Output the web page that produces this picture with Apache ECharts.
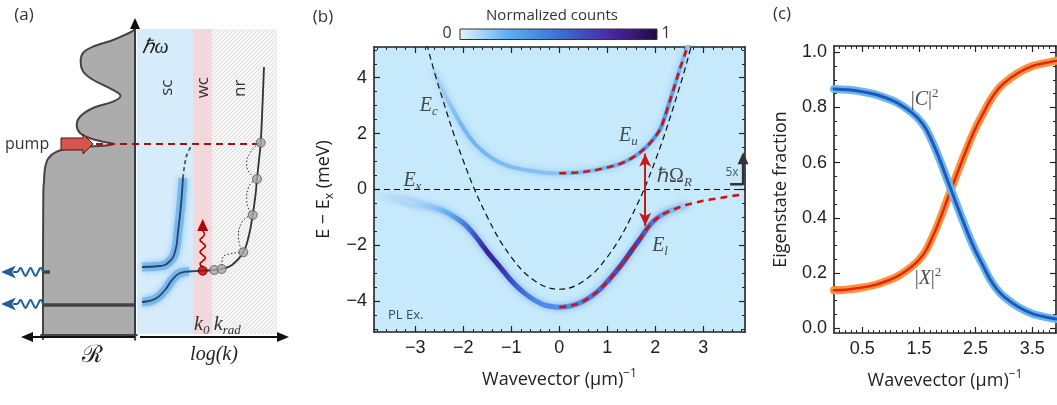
<!DOCTYPE html>
<html><head><meta charset="utf-8">
<script src="https://cdn.jsdelivr.net/npm/echarts@6/dist/echarts.min.js"></script>
<style>html,body{margin:0;padding:0;background:#fff}#c{width:1057px;height:405px}</style>
</head><body><div id="c"></div>
<script>
// ================= DATA =================
// Panel (b): PL dispersion, k in (µm)^-1, E - Ex in meV
const cavityK = [-2.76,-2.5,-2,-1.5,-1,-0.5,0,0.5,1,1.5,2,2.5,2.76];
const cavityE = [5.2,3.62,1.03,-0.98,-2.42,-3.28,-3.57,-3.28,-2.42,-0.98,1.03,3.62,5.2];
const lowerBandK = [-3.86,-3.5,-3.04,-2.6,-2.4,-2.21,-2.0,-1.85,-1.7,-1.58,-1.44,-1.29,-1.15,-1.02,-0.85,-0.67,-0.5,-0.33,-0.16,0,0.16,0.33,0.5,0.67,0.85,1.0,1.15,1.3,1.44,1.55,1.67,1.79,1.9,2.0,2.1,2.2,2.33,2.45,2.58,2.7];
const lowerBandE = [-0.22,-0.3,-0.48,-0.66,-0.78,-0.95,-1.2,-1.46,-1.77,-2.05,-2.36,-2.66,-2.95,-3.22,-3.52,-3.78,-3.98,-4.12,-4.19,-4.21,-4.19,-4.12,-4.0,-3.82,-3.57,-3.3,-3.0,-2.68,-2.35,-2.08,-1.8,-1.5,-1.25,-1.08,-0.95,-0.85,-0.75,-0.67,-0.59,-0.53];
const upperBandK = [-2.62,-2.55,-2.4,-2.2,-2.05,-1.9,-1.75,-1.6,-1.45,-1.3,-1.15,-1.0,-0.8,-0.6,-0.4,-0.2,0,0.2,0.4,0.6,0.8,1.0,1.2,1.4,1.6,1.8,1.95,2.1,2.2,2.31,2.42,2.52,2.62,2.72];
const upperBandE = [4.3,4.0,3.45,2.8,2.35,1.95,1.62,1.38,1.18,1.02,0.9,0.81,0.73,0.67,0.62,0.59,0.58,0.59,0.61,0.65,0.71,0.79,0.88,1.02,1.22,1.5,1.78,2.15,2.6,3.2,3.8,4.35,4.85,5.35];
const upperFitK = [0,0.2,0.4,0.6,0.8,1.0,1.2,1.4,1.6,1.8,1.95,2.1,2.2,2.31,2.42,2.52,2.62,2.72];
const upperFitE = [0.58,0.59,0.61,0.65,0.71,0.79,0.88,1.02,1.22,1.5,1.78,2.15,2.6,3.2,3.8,4.35,4.85,5.35];
const lowerFitK = [0,0.16,0.33,0.5,0.67,0.85,1.0,1.15,1.3,1.44,1.55,1.67,1.79,1.9,2.0,2.1,2.2,2.33,2.45,2.58,2.7,2.94,3.15,3.4,3.65,3.87];
const lowerFitE = [-4.21,-4.19,-4.12,-4.0,-3.82,-3.57,-3.3,-3.0,-2.68,-2.35,-2.08,-1.8,-1.5,-1.25,-1.08,-0.95,-0.85,-0.75,-0.67,-0.59,-0.53,-0.43,-0.36,-0.29,-0.22,-0.17];
const excitonE = 0;
const rabiK = 1.79, rabiTop = 1.28, rabiBottom = -1.3;
const bXTicks = [-3,-2,-1,0,1,2,3];
const bYTicks = [-4,-2,0,2,4];

// Panel (c): eigenstate fractions
const fracK = [0,0.25,0.5,0.75,1.0,1.125,1.25,1.375,1.5,1.625,1.75,1.875,2.0,2.125,2.25,2.375,2.5,2.625,2.75,2.875,3.0,3.25,3.5,3.75,3.92];
const photonFrac = [0.867,0.864,0.857,0.846,0.828,0.816,0.800,0.781,0.757,0.722,0.669,0.607,0.538,0.470,0.403,0.338,0.279,0.229,0.179,0.141,0.114,0.077,0.052,0.039,0.033];
const excitonFrac = [0.137,0.140,0.147,0.158,0.176,0.188,0.204,0.223,0.247,0.282,0.335,0.397,0.466,0.534,0.601,0.666,0.725,0.775,0.823,0.861,0.888,0.925,0.950,0.962,0.969];
const cXTicks = [0.5,1.5,2.5,3.5];
const cYTicks = [0,0.2,0.4,0.6,0.8,1.0];

// Panel (a): schematic outline points (schematic units)
const reflectanceShape = [[135,28],[131.7,31.7],[113,40],[93,46.7],[83,53],[80.7,61.7],[83.3,71.7],[93.3,80],[110,88.3],[120.5,95.5],[113,101.7],[93,108],[80,116.7],[76.7,125],[80,133],[90,138.3],[103,141.7],[114,144],[103,145.8],[86.7,146.8],[70,148.3],[56.7,151.7],[48.3,158.3],[45,168.3],[44,181.7],[43.3,195],[43,260],[43,333],[43,335],[45,335],[90,335],[133,335],[135,335],[135,333],[135,250],[135,150],[135,60],[135,31]];
const scRegion = [[137,29],[193,29],[193,334],[137,334]];
const wcRegion = [[193,29],[212,29],[212,334],[193,334]];
const nrRegion = [[212,29],[277,29],[277,334],[212,334]];
const pumpArrow = [[61,138],[83,138],[83,134],[93,144],[83,154],[83,150],[61,150]];
const pumpLine = [[96,144],[260,144]];
const upperPolariton = [[142,267],[160,266],[169,262],[175,252],[178,232],[181,205],[183,178]];
const upperPolaritonDash = [[183,178],[185,163],[188,152],[193,144]];
const lowerPolariton = [[142,302],[155,299],[165,290],[172,280],[180,273],[189,271.5]];
const lowerPolaritonTail = [[189,271.5],[202.7,270.7]];
const relaxCurve = [[202.7,270.7],[214.3,270],[221.7,269],[232,265],[243.3,252.3],[249,235],[252.7,215],[255.5,195],[257,179],[259,160],[260.7,142.7],[262.5,105],[264,67]];
const hopPaths = [
  [[221.7,269],[222,261],[229,254],[243.3,252.3]],
  [[243.3,252.3],[238.5,237],[241.5,223],[252.7,215]],
  [[252.7,215],[246.7,200],[248.3,188],[257,179]],
  [[257,179],[246.7,165],[250,153],[260.7,142.7]]
];
const greyDots = [[214.3,270],[221.7,269],[243.3,252.3],[252.7,215],[257,179],[260.7,142.7]];
const redDot = [[202.7,270.7]];
const redWave = [[202.7,267],[200,264],[202.7,261],[205.4,258],[202.7,255],[200,252],[202.7,249],[205.4,246],[202.7,243],[200,240],[202.7,237],[204.5,234],[202.7,231]];
const redWaveHead = [[197.2,231],[208.2,231],[202.7,219]];
const blueWaveUpper = [[43,272],[40.5,268],[38,272],[35.5,276],[33,272],[30.5,268],[28,272],[25.5,276],[23,272],[20.5,268],[17,272],[13,272]];
const blueWaveLower = [[43,304],[40.5,300],[38,304],[35.5,308],[33,304],[30.5,300],[28,304],[25.5,308],[23,304],[20.5,300],[17,304],[13,304]];
const blueHeadUpper = [[1,272],[16,265.5],[12,272],[16,278.5]];
const blueHeadLower = [[1,304],[16,297.5],[12,304],[16,310.5]];
const levelLong = [[43,305],[135,305]];
const levelShort = [[43,272],[50,272]];
const energyAxis = [[135,336],[135,27]];
const energyHead = [[130,29],[140,29],[135,18]];
const rAxis = [[135,337],[30,337]];
const rHead = [[33,332],[33,342],[21,337]];
const kAxis = [[140,337],[278,337]];
const kHead = [[277,332],[277,342],[289,337]];
const colorbarRect = [[460,29],[657,29],[657,39.5],[460,39.5]];

// ================= HELPERS =================
const zip = (a, b) => a.map((v, i) => [v, b[i]]);
const range = (a, b, s) => { const r = []; for (let v = a; v <= b + 1e-9; v += s) r.push(+v.toFixed(4)); return r; };
const minus = v => (v < 0 ? '\u2212' + Math.abs(v) : '' + v);

const hatch = document.createElement('canvas');
hatch.width = 4; hatch.height = 4;
(function () {
  const g = hatch.getContext('2d');
  g.fillStyle = '#f6f6f6'; g.fillRect(0, 0, 4, 4);
  g.strokeStyle = '#dadada'; g.lineWidth = 0.9;
  g.beginPath(); g.moveTo(0, 4); g.lineTo(4, 0); g.moveTo(-1, 1); g.lineTo(1, -1); g.moveTo(3, 5); g.lineTo(5, 3); g.stroke();
})();

function poly(points, style, opts) {
  opts = opts || {};
  return {
    type: 'custom', coordinateSystem: 'cartesian2d', xAxisIndex: 0, yAxisIndex: 0, silent: true, z: opts.z || 2,
    data: [[0, 0]],
    renderItem: (params, api) => ({ type: 'polygon', shape: { points: points.map(p => api.coord(p)) }, style: style })
  };
}
// closed smooth outline (Catmull-Rom through the listed points, drawn as cubic Bezier path)
function smoothShape(points, style, z) {
  return {
    type: 'custom', coordinateSystem: 'cartesian2d', xAxisIndex: 0, yAxisIndex: 0, silent: true, z: z || 2,
    data: [[0, 0]],
    renderItem: (params, api) => {
      const p = points.map(q => api.coord(q));
      const n = p.length;
      const g = i => p[(i + n) % n];
      let d = 'M' + p[0][0].toFixed(2) + ',' + p[0][1].toFixed(2);
      for (let i = 0; i < n; i++) {
        const p0 = g(i - 1), p1 = g(i), p2 = g(i + 1), p3 = g(i + 2);
        const c1 = [p1[0] + (p2[0] - p0[0]) / 6, p1[1] + (p2[1] - p0[1]) / 6];
        const c2 = [p2[0] - (p3[0] - p1[0]) / 6, p2[1] - (p3[1] - p1[1]) / 6];
        d += 'C' + c1[0].toFixed(2) + ',' + c1[1].toFixed(2) + ' ' + c2[0].toFixed(2) + ',' + c2[1].toFixed(2) + ' ' + p2[0].toFixed(2) + ',' + p2[1].toFixed(2);
      }
      d += 'Z';
      return { type: 'path', shape: { pathData: d }, style: style };
    }
  };
}
function pline(points, ls, opts) {
  return Object.assign({
    type: 'line', xAxisIndex: 0, yAxisIndex: 0, data: points, symbol: 'none', showSymbol: false,
    smooth: false, lineStyle: ls, silent: true, z: 3
  }, opts || {});
}

const tickColor = '#222';
function frameX(gi, min, max, major, minor, labelFmt, name, gap) {
  const base = { type: 'value', gridIndex: gi, min: min, max: max, splitLine: { show: false } };
  return [
    Object.assign({}, base, {
      position: 'bottom',
      axisLine: { show: true, onZero: false, lineStyle: { color: tickColor, width: 1.6 } },
      axisTick: { show: true, inside: true, length: 6, customValues: major, lineStyle: { color: tickColor, width: 1.2 } },
      axisLabel: { show: true, customValues: major, formatter: labelFmt, fontSize: 18, fontFamily: 'Liberation Sans', color: '#222', margin: 7 },
      name: name, nameLocation: 'middle', nameGap: gap,
      nameTextStyle: { fontSize: 18, fontFamily: 'Open Sans', color: '#222', rich: { sup: { fontSize: 12, fontFamily: 'Open Sans', color: '#222', padding: [0, 0, 12, 0] } } }
    }),
    Object.assign({}, base, {
      position: 'bottom', axisLine: { show: false, onZero: false },
      axisTick: { show: true, inside: true, length: 3, customValues: minor, lineStyle: { color: tickColor, width: 1 } },
      axisLabel: { show: false }
    }),
    Object.assign({}, base, {
      position: 'top', axisLine: { show: true, onZero: false, lineStyle: { color: tickColor, width: 1.6 } },
      axisTick: { show: true, inside: true, length: 6, customValues: major, lineStyle: { color: tickColor, width: 1.2 } },
      axisLabel: { show: false }
    }),
    Object.assign({}, base, {
      position: 'top', axisLine: { show: false, onZero: false },
      axisTick: { show: true, inside: true, length: 3, customValues: minor, lineStyle: { color: tickColor, width: 1 } },
      axisLabel: { show: false }
    })
  ];
}
function frameY(gi, min, max, major, minor, labelFmt, name, gap) {
  const base = { type: 'value', gridIndex: gi, min: min, max: max, splitLine: { show: false } };
  return [
    Object.assign({}, base, {
      position: 'left',
      axisLine: { show: true, onZero: false, lineStyle: { color: tickColor, width: 1.6 } },
      axisTick: { show: true, inside: true, length: 6, customValues: major, lineStyle: { color: tickColor, width: 1.2 } },
      axisLabel: { show: true, customValues: major, formatter: labelFmt, fontSize: 18, fontFamily: 'Liberation Sans', color: '#222', margin: 7 },
      name: name, nameLocation: 'middle', nameGap: gap,
      nameTextStyle: { fontSize: 18, fontFamily: 'Open Sans', color: '#222', rich: { sub: { fontSize: 12, fontFamily: 'Open Sans', color: '#222', padding: [12, 0, 0, 0] } } }
    }),
    Object.assign({}, base, {
      position: 'left', axisLine: { show: false, onZero: false },
      axisTick: { show: true, inside: true, length: 3, customValues: minor, lineStyle: { color: tickColor, width: 1 } },
      axisLabel: { show: false }
    }),
    Object.assign({}, base, {
      position: 'right', axisLine: { show: true, onZero: false, lineStyle: { color: tickColor, width: 1.6 } },
      axisTick: { show: true, inside: true, length: 6, customValues: major, lineStyle: { color: tickColor, width: 1.2 } },
      axisLabel: { show: false }
    }),
    Object.assign({}, base, {
      position: 'right', axisLine: { show: false, onZero: false },
      axisTick: { show: true, inside: true, length: 3, customValues: minor, lineStyle: { color: tickColor, width: 1 } },
      axisLabel: { show: false }
    })
  ];
}

const serif = 'Liberation Serif';
const mathRich = {
  i: { fontFamily: serif, fontStyle: 'italic', fontSize: 20, color: '#222', lineHeight: 24 },
  n: { fontFamily: serif, fontSize: 20, color: '#222', lineHeight: 24 },
  s: { fontFamily: serif, fontStyle: 'italic', fontSize: 13, color: '#222', lineHeight: 24, padding: [12, 0, 0, 0] },
  p: { fontFamily: serif, fontSize: 13, color: '#222', lineHeight: 24, padding: [0, 0, 12, 0] }
};
function mathLabel(xi, yi, pos, text, extra) {
  return {
    type: 'scatter', xAxisIndex: xi, yAxisIndex: yi, data: [pos], symbolSize: 1, silent: true, z: 6,
    itemStyle: { color: 'rgba(0,0,0,0)' },
    label: Object.assign({ show: true, position: 'inside', formatter: text, rich: mathRich, color: '#222' }, extra || {})
  };
}

// ================= SERIES =================
const series = [];
// ---- Panel (a)
series.push(poly(scRegion, { fill: '#d6ecfb' }, { z: 1 }));
series.push(poly(wcRegion, { fill: '#f3d8da' }, { z: 1 }));
series.push(poly(nrRegion, { fill: { image: hatch, repeat: 'repeat' } }, { z: 1 }));
series.push(smoothShape(reflectanceShape, { fill: '#acacac', stroke: '#444', lineWidth: 2 }, 2));
series.push(pline(levelLong, { color: '#444', width: 3.5 }));
series.push(pline(levelShort, { color: '#444', width: 3.5 }));
series.push(pline(energyAxis, { color: '#2c3d4f', width: 2 }));
series.push(poly(energyHead, { fill: '#111' }, { z: 4 }));
series.push(pline(rAxis, { color: '#111', width: 2 }));
series.push(poly(rHead, { fill: '#111' }, { z: 4 }));
series.push(pline(kAxis, { color: '#111', width: 2 }));
series.push(poly(kHead, { fill: '#111' }, { z: 4 }));
series.push(pline(pumpLine, { color: '#a80f0f', width: 2, type: [7, 5] }));
series.push(poly(pumpArrow, { fill: '#d9534f', stroke: '#4a1515', lineWidth: 1 }, { z: 4 }));
[upperPolariton, lowerPolariton].forEach(pts => {
  series.push(pline(pts, { color: 'rgba(80,160,235,0.55)', width: 9, shadowBlur: 6, shadowColor: 'rgba(60,150,235,0.8)' }, { smooth: 0.5 }));
  series.push(pline(pts, { color: '#2a4560', width: 1.8 }, { smooth: 0.5, z: 4 }));
});
series.push(pline(lowerPolaritonTail, { color: '#2a4560', width: 1.8 }));
series.push(pline(upperPolaritonDash, { color: '#555', width: 1.8, type: [4, 3] }, { smooth: 0.5 }));
series.push(pline(relaxCurve, { color: '#333', width: 1.8 }, { smooth: 0.4 }));
hopPaths.forEach(p => series.push(pline(p, { color: '#333', width: 1, type: [1.5, 2] }, { smooth: 0.6 })));
series.push(pline(redWave, { color: '#b30000', width: 1.6 }, { smooth: 0.5 }));
series.push(poly(redWaveHead, { fill: '#b30000' }, { z: 4 }));
series.push(pline(blueWaveUpper, { color: '#1f5d9c', width: 2 }, { smooth: 0.5 }));
series.push(pline(blueWaveLower, { color: '#1f5d9c', width: 2 }, { smooth: 0.5 }));
series.push(poly(blueHeadUpper, { fill: '#1f5d9c' }, { z: 4 }));
series.push(poly(blueHeadLower, { fill: '#1f5d9c' }, { z: 4 }));
series.push({ type: 'scatter', xAxisIndex: 0, yAxisIndex: 0, data: greyDots, symbolSize: 9, silent: true, z: 5,
  itemStyle: { color: '#a9a9a9', borderColor: '#555', borderWidth: 1 } });
series.push({ type: 'scatter', xAxisIndex: 0, yAxisIndex: 0, data: redDot, symbolSize: 9, silent: true, z: 5,
  itemStyle: { color: '#c40000', borderColor: '#500', borderWidth: 1 } });
// colorbar
series.push(poly(colorbarRect, {
  fill: new echarts.graphic.LinearGradient(0, 0, 1, 0, [
    { offset: 0, color: '#e2f5fe' }, { offset: 0.25, color: '#5aaef2' }, { offset: 0.45, color: '#3d7fe0' },
    { offset: 0.62, color: '#3f4fc2' }, { offset: 0.78, color: '#4a24a0' }, { offset: 0.9, color: '#36156e' }, { offset: 1, color: '#1c0a40' }
  ]), stroke: '#333', lineWidth: 1
}, { z: 3 }));

// ---- Panel (b)  (xAxis 1, yAxis 1)
const bx = 1, by = 1;
series.push({ type: 'line', xAxisIndex: bx, yAxisIndex: by, data: zip(lowerBandK, lowerBandE), symbol: 'none', smooth: 0.3, silent: true, z: 2,
  lineStyle: { width: 5, shadowBlur: 6, shadowColor: 'rgba(60,110,225,0.5)',
    color: new echarts.graphic.LinearGradient(0, 0, 1, 0, [
      { offset: 0, color: 'rgba(197,233,250,0)' }, { offset: 0.06, color: 'rgba(180,222,248,0.4)' }, { offset: 0.12, color: '#b0dbf7' },
      { offset: 0.19, color: '#8ec8f4' },
      { offset: 0.25, color: '#5aa8ee' }, { offset: 0.31, color: '#3f6ad8' }, { offset: 0.36, color: '#35249a' },
      { offset: 0.40, color: '#3a2aa8' }, { offset: 0.45, color: '#3f5ad0' }, { offset: 0.51, color: '#4a88e6' },
      { offset: 0.59, color: '#4f90ea' }, { offset: 0.68, color: '#4a80e2' }, { offset: 0.76, color: '#3f55cc' },
      { offset: 0.82, color: '#3a3ab8' }, { offset: 0.88, color: '#4a7ae0' }, { offset: 0.94, color: '#78b8f0' },
      { offset: 1, color: '#b8e0f8' }]) } });
series.push({ type: 'line', xAxisIndex: bx, yAxisIndex: by, data: zip(upperBandK, upperBandE), symbol: 'none', smooth: 0.3, silent: true, z: 2,
  lineStyle: { width: 4, shadowBlur: 7, shadowColor: 'rgba(90,160,235,0.5)',
    color: new echarts.graphic.LinearGradient(0, 0, 1, 0, [
      { offset: 0, color: 'rgba(150,205,245,0.3)' }, { offset: 0.05, color: '#9accf4' }, { offset: 0.12, color: '#74b6f0' },
      { offset: 0.2, color: '#74b6f0' }, { offset: 0.31, color: '#80bef2' }, { offset: 0.5, color: '#8ac4f3' },
      { offset: 0.68, color: '#74b4f0' }, { offset: 0.8, color: '#5aa2ec' }, { offset: 0.87, color: '#4a8ee8' },
      { offset: 0.93, color: '#5aa5ee' }, { offset: 1, color: '#9fd2f5' }]) } });
series.push({ type: 'line', xAxisIndex: bx, yAxisIndex: by, data: zip(cavityK, cavityE), symbol: 'none', smooth: 0.4, silent: true, z: 3,
  lineStyle: { color: '#111', width: 1.2, type: [6, 4] } });
series.push({ type: 'line', xAxisIndex: bx, yAxisIndex: by, data: [[-3.86, excitonE], [3.87, excitonE]], symbol: 'none', silent: true, z: 3,
  lineStyle: { color: '#111', width: 1.2, type: [6, 4] } });
series.push({ type: 'line', xAxisIndex: bx, yAxisIndex: by, data: zip(upperFitK, upperFitE), symbol: 'none', smooth: 0.3, silent: true, z: 4,
  lineStyle: { color: '#cc1414', width: 2.6, type: [7, 5] } });
series.push({ type: 'line', xAxisIndex: bx, yAxisIndex: by, data: zip(lowerFitK, lowerFitE), symbol: 'none', smooth: 0.3, silent: true, z: 4,
  lineStyle: { color: '#cc1414', width: 2.6, type: [7, 5] },
  markLine: { silent: true, animation: false, label: { show: false }, symbol: ['arrow', 'arrow'], symbolSize: [9, 13],
    lineStyle: { color: '#c81818', width: 2, type: 'solid' },
    data: [[{ coord: [rabiK, rabiTop] }, { coord: [rabiK, rabiBottom] }]] } });
series.push({ type: 'line', xAxisIndex: bx, yAxisIndex: by, data: [[3.56, 0.19], [3.83, 0.19], [3.83, 0.95]], symbol: 'none', silent: true, z: 5,
  lineStyle: { color: '#333', width: 2.5 },
  markPoint: { silent: true, symbol: 'triangle', symbolSize: [11, 12], itemStyle: { color: '#333' }, label: { show: false },
    data: [{ coord: [3.83, 1.12] }] } });
series.push(mathLabel(bx, by, [-2.72, 3.0], '{i|E}{s|c}'));
series.push(mathLabel(bx, by, [-3.06, 0.33], '{i|E}{s|x}'));
series.push(mathLabel(bx, by, [1.44, 1.92], '{i|E}{s|u}'));
series.push(mathLabel(bx, by, [2.4, 0.45], '{n|ℏΩ}{s|R}'));
series.push(mathLabel(bx, by, [2.1, -2.02], '{i|E}{s|l}'));
series.push(mathLabel(bx, by, [-3.58, -4.5], 'PL Ex.', { position: 'right', distance: 0, fontFamily: 'Open Sans', fontSize: 13, color: '#222' }));
series.push(mathLabel(bx, by, [3.6, 0.6], '5x', { fontFamily: 'Open Sans', fontSize: 12, color: '#333' }));

// ---- Panel (c)  (xAxis 5, yAxis 5)
const cx = 5, cy = 5;
const fracLine = (vals, color, width, z) => ({ type: 'line', xAxisIndex: cx, yAxisIndex: cy, data: zip(fracK, vals), symbol: 'none',
  smooth: 0.3, silent: true, z: z, lineStyle: { color: color, width: width, cap: 'round' } });
series.push(fracLine(excitonFrac, '#f7953e', 8, 2));
series.push(fracLine(excitonFrac, '#e8240f', 2.5, 3));
series.push(fracLine(photonFrac, '#6ab6ea', 8, 4));
series.push(fracLine(photonFrac, '#1f58bd', 3, 5));
series.push(mathLabel(cx, cy, [1.6, 0.827], '{n||}{i|C}{n||}{p|2}'));
series.push(mathLabel(cx, cy, [1.66, 0.18], '{n||}{i|X}{n||}{p|2}'));

// ================= AXES =================
const xAxes = [{ type: 'value', gridIndex: 0, min: 0, max: 1057, show: false }]
  .concat(frameX(1, -3.86, 3.87, bXTicks, range(-3.8, 3.8, 0.2), minus, 'Wavevector (μm){sup|−1}', 36))
  .concat(frameX(2, 0, 3.92, cXTicks, range(0.1, 3.9, 0.1), v => v.toFixed(1), 'Wavevector (μm){sup|−1}', 36));
const yAxes = [{ type: 'value', gridIndex: 0, min: 0, max: 405, inverse: true, show: false }]
  .concat(frameY(1, -5.1, 5.1, bYTicks, range(-5, 5, 0.5), minus, 'E − E{sub|x} (meV)', 38))
  .concat(frameY(2, -0.018, 1.023, cYTicks, range(0, 1, 0.05), v => v.toFixed(1), 'Eigenstate fraction', 44));

const txt = (x, y, text, style, extra) => Object.assign({ type: 'text', x: x, y: y, silent: true, z: 100,
  style: Object.assign({ text: text, fill: '#333', align: 'center', verticalAlign: 'middle', fontFamily: 'Open Sans', fontSize: 17 }, style) }, extra || {});

const option = {
  animation: false,
  backgroundColor: '#fff',
  grid: [
    { left: 0, top: 0, width: 1057, height: 405, show: false },
    { left: 374, top: 47, width: 371, height: 285, show: true, backgroundColor: '#c6e9fb', borderWidth: 0 },
    { left: 834, top: 46, width: 222, height: 287, show: false }
  ],
  xAxis: xAxes,
  yAxis: yAxes,
  series: series,
  graphic: [
    txt(24, 15, '(a)'),
    txt(323, 17, '(b)'),
    txt(782, 14, '(c)'),
    txt(5, 144, 'pump', { align: 'left', fontSize: 16 }),
    txt(155.5, 47.5, 'ℏω', { fontFamily: serif, fontStyle: 'italic', fontSize: 20, fill: '#222' }),
    txt(166.7, 87.7, 'sc', { fontSize: 17 }, { rotation: Math.PI / 2 }),
    txt(202.7, 87.7, 'wc', { fontSize: 17 }, { rotation: Math.PI / 2 }),
    txt(240, 88.3, 'nr', { fontSize: 17 }, { rotation: Math.PI / 2 }),
    txt(194, 325, '{i|k}{s|0} {i|k}{s|rad}', { align: 'left', rich: mathRich }),
    txt(92, 356, 'ℛ', { fontFamily: 'DejaVu Serif', fontSize: 24, fill: '#222' }),
    txt(214, 355, 'log(k)', { fontFamily: serif, fontStyle: 'italic', fontSize: 20, fill: '#222' }),
    txt(552, 16, 'Normalized counts', { fontSize: 15 }),
    txt(447, 33, '0', { fontSize: 16 }),
    txt(666, 33, '1', { fontSize: 16 })
  ]
};
const chart = echarts.init(document.getElementById('c'), null, { renderer: 'canvas' });
chart.setOption(option);
</script></body></html>
